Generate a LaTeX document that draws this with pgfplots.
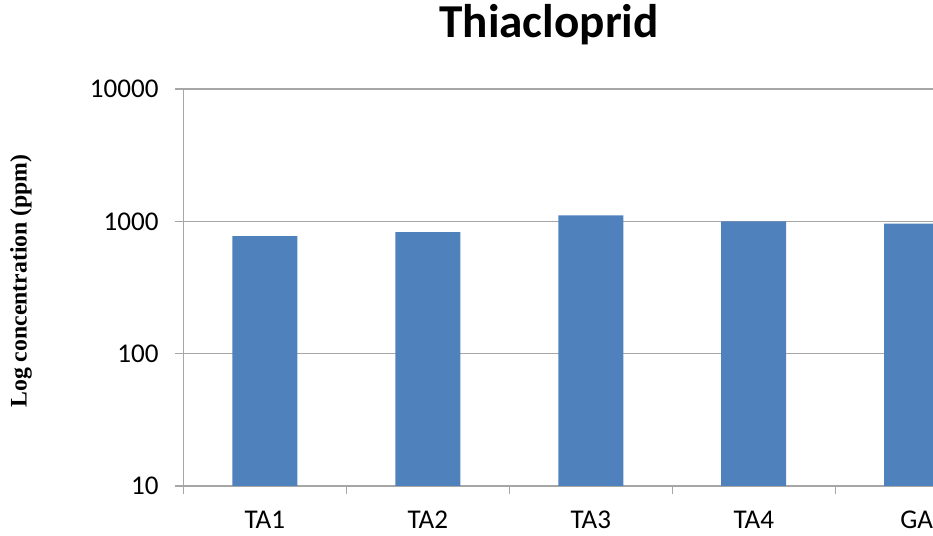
\documentclass[border=0pt]{standalone}
\usepackage{fontspec}
\setmainfont{Carlito}
\newfontfamily\serifbold{Liberation Serif}
\usepackage{pgfplots}
\pgfplotsset{compat=1.18}
\definecolor{barblue}{HTML}{4F81BD}
\definecolor{gridgray}{HTML}{A6A6A6}
\begin{document}
\begin{tikzpicture}[x=0.75pt,y=0.75pt]
\useasboundingbox (-183.3,-50) rectangle (749.7,486);
\begin{axis}[
  at={(0,0)}, anchor=south west,
  scale only axis,
  width=562.3pt, height=297.75pt,
  xmin=-0.5, xmax=4.1,
  ymode=log, ymin=10, ymax=10000,
  axis lines=left,
  axis line style={gridgray, line width=0.9pt, -},
  ymajorgrids,
  major grid style={gridgray, line width=0.9pt},
  tick align=outside,
  tick style={gridgray, line width=0.9pt},
  ytick={10,100,1000,10000},
  yticklabels={10,100,1000,10000},
  yminorticks=false,
  major tick length=6pt,
  minor tick length=6pt,
  xtick={0,1,2,3,4},
  xticklabels={TA1,TA2,TA3,TA4,GA},
  major x tick style={draw=none},
  minor xtick={-0.5,0.5,1.5,2.5,3.5},
  ticklabel style={font=\fontsize{20.3}{24}\selectfont, text=black},
  yticklabel style={anchor=east, xshift=-9pt},
  xticklabel style={anchor=north, yshift=-9pt},
  clip=true,
]
\addplot[ybar, bar width=48.75pt, fill=barblue, draw=none]
  coordinates {(0,774) (1,830) (2,1110) (3,1000) (4,961)};
\end{axis}
\node[anchor=base] at (365.7,448.7) {\fontsize{35.4}{40}\selectfont\bfseries Thiacloprid};
\node[rotate=90, anchor=center] at (-162.3,205)
  {\serifbold\bfseries\fontsize{17.8}{20}\selectfont Log concentration (ppm)};
\end{tikzpicture}
\end{document}
